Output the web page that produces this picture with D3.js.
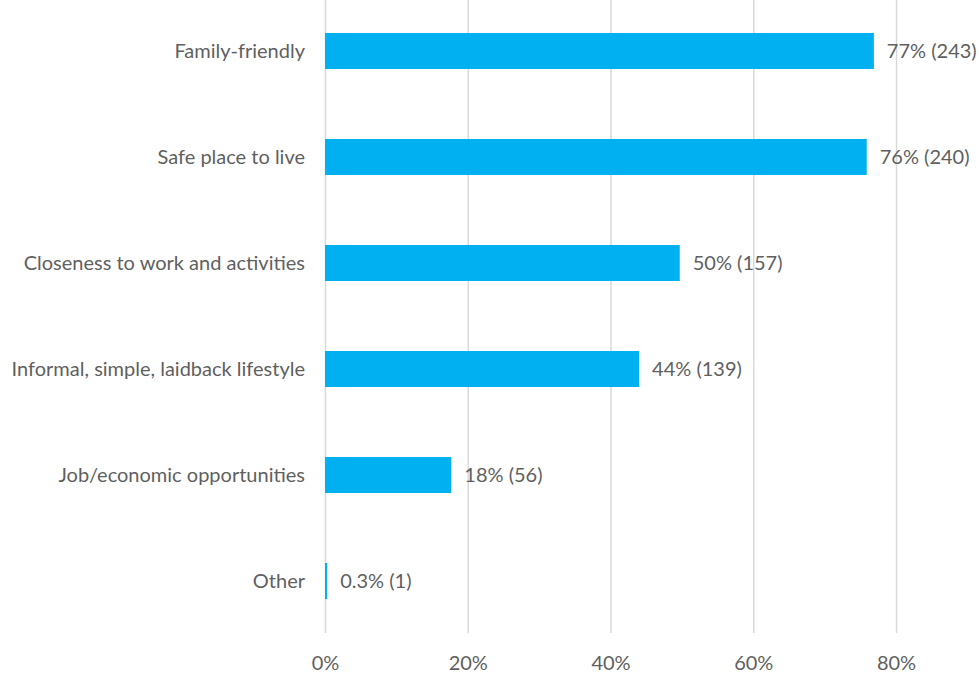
<!DOCTYPE html>
<html>
<head>
<meta charset="utf-8">
<script src="https://cdn.jsdelivr.net/npm/d3@7"></script>
<style>
  html, body { margin: 0; padding: 0; background: #fff; }
  svg { display: block; }
  text { font-family: Lato, "Open Sans", sans-serif; fill: #5f5f5f; }
</style>
</head>
<body>
<svg id="chart" width="979" height="673"></svg>
<script>
// Reasons for choosing the area (share of respondents, count)
const categories = [
  "Family-friendly",
  "Safe place to live",
  "Closeness to work and activities",
  "Informal, simple, laidback lifestyle",
  "Job/economic opportunities",
  "Other"
];
const percentValues = [76.9, 75.9, 49.7, 44.0, 17.7, 0.3];
const valueLabels = ["77% (243)", "76% (240)", "50% (157)", "44% (139)", "18% (56)", "0.3% (1)"];
const tickValues = [0, 20, 40, 60, 80];

const svg = d3.select("#chart");
const fontSize = "20px";

const x = d3.scaleLinear().domain([0, 80]).range([325, 896]);
const y = d3.scaleBand().domain(categories).range([-2, 634]).paddingInner(0.66).paddingOuter(0.33);

// vertical gridlines
svg.append("g")
  .selectAll("line")
  .data(tickValues)
  .join("line")
  .attr("x1", d => x(d) + 0.5)
  .attr("x2", d => x(d) + 0.5)
  .attr("y1", 0)
  .attr("y2", 633)
  .attr("stroke", "#d9d9d9")
  .attr("stroke-width", 1.5);

// bottom tick labels
const xAxis = d3.axisBottom(x)
  .tickValues(tickValues)
  .tickFormat(d => d + "%")
  .tickSize(0)
  .tickPadding(0);
const gx = svg.append("g").attr("transform", "translate(0,670)").call(xAxis);
gx.select(".domain").remove();
gx.selectAll("text")
  .attr("dy", 0)
  .attr("y", 0)
  .style("font-size", fontSize)
  .style("font-family", "Lato, 'Open Sans', sans-serif")
  .attr("fill", "#5f5f5f");

// bars
svg.append("g")
  .selectAll("rect")
  .data(categories)
  .join("rect")
  .attr("x", x(0))
  .attr("y", d => y(d))
  .attr("width", (d, i) => Math.max(x(percentValues[i]) - x(0), 2))
  .attr("height", y.bandwidth())
  .attr("fill", "#00B0F0");

// category labels
svg.append("g")
  .selectAll("text")
  .data(categories)
  .join("text")
  .attr("x", 305)
  .attr("y", d => y(d) + y.bandwidth() / 2)
  .attr("dy", "0.35em")
  .attr("text-anchor", "end")
  .style("font-size", fontSize)
  .text(d => d);

// value labels
svg.append("g")
  .selectAll("text")
  .data(categories)
  .join("text")
  .attr("x", (d, i) => Math.max(x(percentValues[i]), x(0) + 2) + 13)
  .attr("y", d => y(d) + y.bandwidth() / 2)
  .attr("dy", "0.35em")
  .style("font-size", fontSize)
  .text((d, i) => valueLabels[i]);
</script>
</body>
</html>
